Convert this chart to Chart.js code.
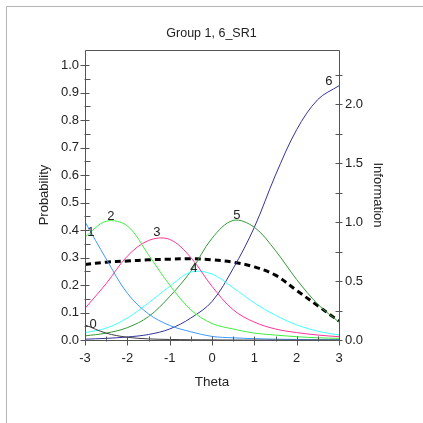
<!DOCTYPE html>
<html><head><meta charset="utf-8">
<script src="https://cdn.jsdelivr.net/npm/chart.js@4/dist/chart.umd.min.js"></script>
<style>html,body{margin:0;padding:0;background:#fff}#wrap{width:423px;height:423px;position:relative}</style>
</head><body><div id="wrap"><canvas id="c" width="423" height="423"></canvas></div>
<script>
const theta = [-3,-2.5,-2,-1.5,-1,-0.5,0,0.5,1,1.5,2,2.5,3];
const cat0 = [0.055,0.025,0.010,0.004,0.002,0.001,0.0005,0,0,0,0,0,0];
const cat1 = [0.43,0.295,0.17,0.095,0.053,0.03,0.013,0.008,0.005,0.003,0.002,0.001,0.001];
const cat2 = [0.375,0.432,0.415,0.31,0.20,0.11,0.06,0.04,0.025,0.018,0.012,0.008,0.006];
const cat3 = [0.115,0.205,0.305,0.362,0.366,0.30,0.195,0.11,0.065,0.04,0.027,0.018,0.012];
const cat4 = [0.027,0.043,0.08,0.135,0.195,0.247,0.24,0.19,0.135,0.09,0.055,0.032,0.018];
const cat5 = [0.015,0.025,0.045,0.085,0.158,0.25,0.37,0.435,0.41,0.325,0.22,0.13,0.065];
const cat6 = [0.003,0.006,0.011,0.02,0.04,0.08,0.14,0.26,0.41,0.6,0.765,0.875,0.925];
const info = [0.64,0.66,0.67,0.68,0.685,0.69,0.68,0.66,0.62,0.55,0.42,0.29,0.16];
const catNames = ['0','1','2','3','4','5','6'];
const catColors = ['#404040','#3d99ff','#40ee40','#ff3399','#40ffff','#339933','#333399'];
const labelTheta = [-2.81,-2.86,-2.39,-1.30,-0.43,0.59,2.76];
const labelProb = [0.055,0.39,0.45,0.39,0.26,0.455,0.94];
const xTickLabels = ['-3','-2','-1','0','1','2','3'];

const cats = [cat0,cat1,cat2,cat3,cat4,cat5,cat6];
const datasets = cats.map((arr,i)=>({
  label: catNames[i],
  data: theta.map((t,j)=>({x:t,y:arr[j]})),
  borderColor: catColors[i], borderWidth: 1, pointRadius: 0,
  tension: 0.35, yAxisID: 'y', fill:false
}));
datasets.push({
  label:'Information',
  data: theta.map((t,j)=>({x:t,y:info[j]})),
  borderColor:'#000', borderWidth:3, borderDash:[6,4], pointRadius:0,
  tension:0.35, yAxisID:'y2', fill:false
});

const FONT = "'Liberation Sans', Arial, sans-serif";
const AX = '#555';

const decor = {
  id:'decor',
  beforeDraw(chart){
    const ctx = chart.ctx;
    ctx.save();
    ctx.strokeStyle = '#b4b4b4'; ctx.lineWidth = 1;
    ctx.beginPath();
    ctx.moveTo(6.5,423); ctx.lineTo(6.5,6.5); ctx.lineTo(423,6.5);
    ctx.stroke();
    ctx.restore();
  },
  afterDraw(chart){
    const {ctx, chartArea:a, scales} = chart;
    const x = scales.x, y = scales.y, y2 = scales.y2;
    ctx.save();
    ctx.strokeStyle = AX; ctx.lineWidth = 1;
    const L = Math.round(a.left)+0.5, R = Math.round(a.right)+0.5, B = Math.round(a.bottom)+0.5, T = Math.round(a.top)+0.5;
    ctx.beginPath();
    ctx.moveTo(L,T); ctx.lineTo(R,T); ctx.lineTo(R,B); ctx.lineTo(L,B); ctx.closePath();
    ctx.stroke();
    ctx.beginPath();
    for (let k=0;k<=20;k++){
      const v = k*0.05; const py = Math.round(y.getPixelForValue(v))+0.5;
      if (k%2===0){ ctx.moveTo(L-5,py); ctx.lineTo(L+4,py); }
      else { ctx.moveTo(L-1,py); ctx.lineTo(L+5,py); }
    }
    for (let k=0;k<=9;k++){
      const v = k*0.25; const py = Math.round(y2.getPixelForValue(v))+0.5;
      ctx.moveTo(R-4,py); ctx.lineTo(R+3,py);
    }
    for (let k=0;k<=12;k++){
      const v = -3+k*0.5; const px = Math.round(x.getPixelForValue(v))+0.5;
      if (k%2===0){ ctx.moveTo(px,B-4); ctx.lineTo(px,B+5); }
      else { ctx.moveTo(px,B-4); ctx.lineTo(px,B+1); }
    }
    ctx.stroke();
    ctx.fillStyle = '#222';
    ctx.font = '13px ' + FONT;
    ctx.textAlign = 'center'; ctx.textBaseline = 'middle';
    for (let i=0;i<catNames.length;i++){
      ctx.fillText(catNames[i], x.getPixelForValue(labelTheta[i]), y.getPixelForValue(labelProb[i]));
    }
    ctx.restore();
  }
};

new Chart(document.getElementById('c'), {
  type:'line',
  data:{datasets},
  options:{
    responsive:false, animation:false, devicePixelRatio:1,
    layout:{padding:0},
    plugins:{
      legend:{display:false}, tooltip:{enabled:false},
      title:{display:true, text:'Group 1, 6_SR1', color:'#222',
        font:{family:FONT, size:12.5, weight:'normal', lineHeight:1.2},
        padding:{top:26,bottom:9}}
    },
    scales:{
      x:{type:'linear', min:-3, max:3, position:'bottom',
        grid:{display:false, drawTicks:false}, border:{display:false},
        afterFit(s){ s.height = 83; },
        afterBuildTicks(s){ s.ticks = xTickLabels.map(t=>({value:Number(t)})); },
        ticks:{color:'#222', padding:11, font:{family:FONT,size:13}, maxRotation:0,
          callback:(v)=>String(v)},
        title:{display:true, text:'Theta', color:'#222', font:{family:FONT,size:13.5}, padding:{top:0,bottom:33}}
      },
      y:{type:'linear', min:0, max:1.055, position:'left',
        grid:{display:false, drawTicks:false}, border:{display:false},
        afterFit(s){ s.width = 85; },
        ticks:{stepSize:0.1, includeBounds:false, color:'#222', padding:6, font:{family:FONT,size:13},
          callback:(v)=>Number(v).toFixed(1)},
        title:{display:true, text:'Probability', color:'#222', font:{family:FONT,size:13}, padding:{top:37,bottom:0}}
      },
      y2:{type:'linear', min:0, max:2.46, position:'right',
        grid:{display:false, drawTicks:false}, border:{display:false},
        afterFit(s){ s.width = 84; },
        ticks:{stepSize:0.5, includeBounds:false, color:'#222', padding:6, font:{family:FONT,size:13},
          callback:(v)=>Number(v).toFixed(1)},
        title:{display:true, text:'Information', color:'#222', font:{family:FONT,size:13}, padding:{top:38,bottom:0}}
      }
    }
  },
  plugins:[decor]
});
</script></body></html>
